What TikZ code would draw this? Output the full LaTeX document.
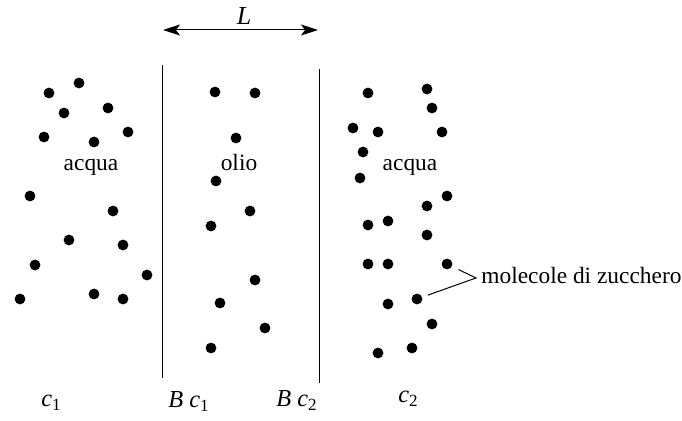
\documentclass[tikz,border=0pt]{standalone}
\usepackage{fontspec}
\setmainfont{Liberation Serif}
\usetikzlibrary{arrows.meta}

\begin{document}
\begin{tikzpicture}[x=0.5pt, y=-0.5pt,
  dot/.style={circle, fill, inner sep=0pt, minimum size=5.4pt},
  lbl/.style={inner sep=0pt, font=\fontsize{11.7}{14}\selectfont},
  wall/.style={line width=0.5pt}]
  \useasboundingbox (0,0) rectangle (682,421);
  % membrane walls
  \coordinate (w1t) at (162,65);
  \coordinate (w1b) at (162,378);
  \coordinate (w2t) at (319,69);
  \coordinate (w2b) at (319,383);
  \draw[wall] (w1t) -- (w1b);
  \draw[wall] (w2t) -- (w2b);
  % thickness L
  \coordinate (la) at (163,30);
  \coordinate (lb) at (318,30);
  \draw[{Stealth[length=8.5pt, width=5.5pt, inset=2pt]}-{Stealth[length=8.5pt, width=5.5pt, inset=2pt]}, line width=0.5pt] (la) -- (lb);
  \node[lbl, font=\fontsize{13}{15}\selectfont, anchor=base] (len) at (244,25) {\textit{L}};
  % molecules
  \foreach \x/\y [count=\i] in {79/83, 49/93, 64/113, 108/108, 44/137, 94/142, 128/132, 30/196, 113/211, 69/240, 123/245, 35/265, 147/275, 20/299, 94/294, 123/299}
    \node[dot] (a\i) at (\x,\y) {};
  \foreach \x/\y [count=\i] in {215/92, 255/93, 236/138, 216/181, 250/211, 211/226, 255/280, 220/303, 265/328, 211/348}
    \node[dot] (b\i) at (\x,\y) {};
  \foreach \x/\y [count=\i] in {368/93, 427/89, 432/108, 353/128, 378/132, 442/132, 363/152, 360/178, 447/196, 427/206, 368/225, 388/221, 427/235, 368/264, 388/264, 447/264, 417/299, 388/304, 432/324, 412/348, 378/353}
    \node[dot] (c\i) at (\x,\y) {};
  % regions
  \node[lbl, anchor=base] (water1) at (91,171) {acqua};
  \node[lbl, anchor=base] (oil) at (239,171) {olio};
  \node[lbl, anchor=base] (water2) at (410,171) {acqua};
  % pointer
  \coordinate (tip) at (476,278);
  \draw[line width=0.5pt, shorten <=3.5pt, shorten >=2.8pt] (c16) -- (tip) -- (c17);
  \node[lbl, anchor=base west] (mol) at (481,284) {molecole di zucchero};
  % concentrations
  \node[lbl, font=\fontsize{12.2}{14}\selectfont, anchor=base west] (k1) at (41,407) {\textit{c}\textsubscript{1}};
  \node[lbl, font=\fontsize{12.2}{14}\selectfont, anchor=base west] (bk1) at (168,408) {\textit{B c}\textsubscript{1}};
  \node[lbl, font=\fontsize{12.2}{14}\selectfont, anchor=base west] (bk2) at (276,407) {\textit{B c}\textsubscript{2}};
  \node[lbl, font=\fontsize{12.2}{14}\selectfont, anchor=base west] (k2) at (398,403) {\textit{c}\textsubscript{2}};
\end{tikzpicture}
\end{document}
